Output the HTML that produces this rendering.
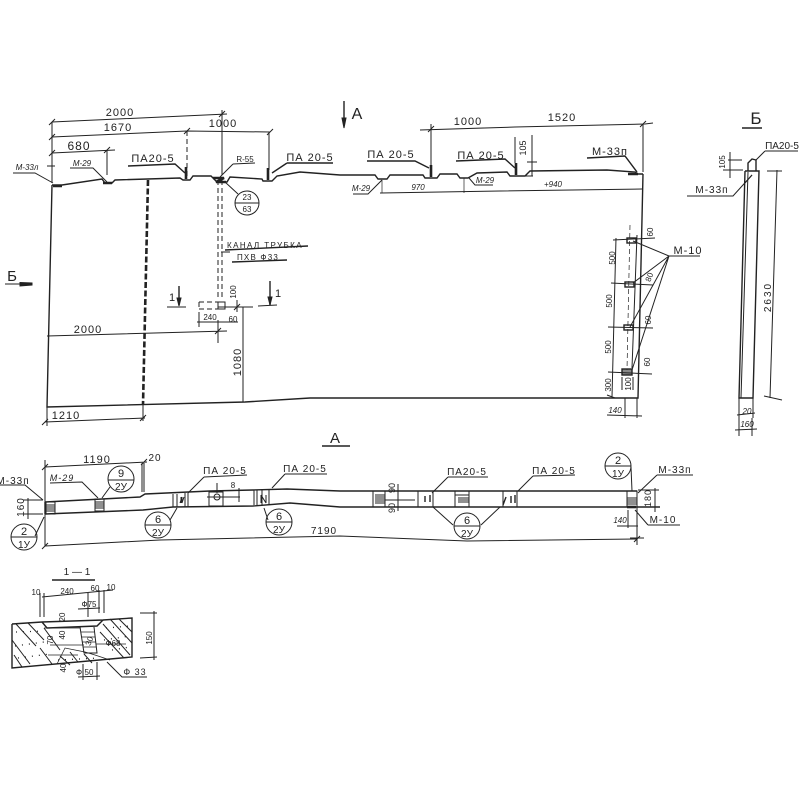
<!DOCTYPE html>
<html><head><meta charset="utf-8"><style>
html,body{margin:0;padding:0;background:#fff;width:800px;height:800px;overflow:hidden}
svg{display:block}
text{font-family:"Liberation Sans",sans-serif;fill:#222;text-anchor:middle;font-size:10px}
.i{font-style:italic}
.s{font-size:8px}
.m{font-size:11px;letter-spacing:1px}
.l{font-size:12px;letter-spacing:1px}
path,line,polyline,circle,rect{fill:none;stroke:#222;stroke-width:1}
.t{stroke-width:1.4}
.h{stroke-width:2.6}
.d{stroke-dasharray:5 3}
.th{stroke-width:.7}
.f{fill:#222}
.dot{stroke-width:1.3;stroke-dasharray:1 6}
</style></head><body>
<svg width="800" height="800" viewBox="0 0 800 800" xmlns="http://www.w3.org/2000/svg">

<!-- TOP ELEVATION -->
<path class="t" d="M52,185L47,407L245,402L310,398L638,398L643,174"/>
<path class="t" d="M52,185H62L102,179L105,183H112L115,180L180,178L183,180H190L193,176H211L217,182H227L230,177L262,179L263,181H272L277,176L300,172L340,175H375L378,179H387L390,175H423L425,178H437L440,174H457L460,178H468L477,173L507,172L510,176H525L530,171L607,170L635,172L638,174H643"/>
<path d="M380,193L500,191L642,189"/>
<path class="th" d="M382,180V193M464,178V193"/>
<path class="h" d="M148,180L143,405" stroke-dasharray="6 2.5"/>
<path d="M143,405V417"/>
<path class="d" d="M218,180V298M222,180V298"/>
<path class="h" d="M53,186H62M103,183H112M186,167V179M268,168V180M431,165V177M516,163V175M628,174H638"/>
<path class="h" d="M213,178H224L216,182H226"/>

<!-- top dims -->
<path d="M52,122L227,114M52,137L187,131L270,132M52,153L115,150"/>
<path d="M52,122V183M107,150V175M269,132V170M222,110V175"/>
<path class="d" d="M187,131V178"/>
<path d="M49,125L55,119M49,140L55,134M49,156L55,150M104,153L110,147M184,134L190,128M219,117L225,111M267,135L273,129"/>
<text x="120" y="116" class="m">2000</text>
<text x="118" y="131" class="m">1670</text>
<text x="223" y="127" class="m">1000</text>
<text x="79" y="150" class="l">680</text>

<path d="M13,173H35L53,183M47,166H55"/>
<text x="27" y="170" class="s i">M-33л</text>
<path d="M70,168H93L107,182"/>
<text x="82" y="166" class="s i">M-29</text>
<path class="t" d="M128,166L175,164L185,173"/>
<text x="153" y="162" class="m">ПА20-5</text>
<path d="M233,164L255,163M233,164L220,177"/>
<text x="245" y="162" class="s">R-55</text>
<circle cx="247" cy="203" r="12"/>
<path d="M235,203H259M238,194L225,182"/>
<text x="247" y="200" class="s">23</text>
<text x="247" y="212" class="s">63</text>
<path class="t" d="M287,163H333M287,163L272,173"/>
<text x="310" y="161" class="m">ПА 20-5</text>

<!-- A arrow -->
<path class="t" d="M344,101V125"/>
<path class="f" d="M342,118H346L344,128Z"/>
<text x="357" y="119" style="font-size:16px">А</text>

<!-- top right dims -->
<path d="M420,130L515,127L645,124L653,123"/>
<path d="M431,124V165M515,137V163M643,124V172"/>
<path d="M428,132L434,126M640,127L646,121"/>
<path d="M532,135V176M527,162H537M523,176H533"/>
<text x="468" y="125" class="m">1000</text>
<text x="562" y="121" class="m">1520</text>
<text transform="translate(523,148) rotate(-90)" y="3" style="font-size:9px">105</text>
<path class="t" d="M367,161L415,161L429,168M456,161L505,159L515,168M587,158L625,156L637,172"/>
<text x="391" y="158" class="m">ПА 20-5</text>
<text x="481" y="159" class="m">ПА 20-5</text>
<text x="610" y="155" class="m">М-33п</text>
<path d="M353,194H368L382,180M493,185H475L469,178"/>
<text x="361" y="191" class="s i">M-29</text>
<text x="485" y="183" class="s i">M-29</text>
<text x="418" y="190" class="s i">970</text>
<text x="553" y="187" class="s i">+940</text>

<!-- channel label -->
<path class="t" d="M225,250L308,246M232,262L287,260"/>
<path d="M221,252H230"/>
<text x="265" y="248" class="s" style="letter-spacing:1.4px">КАНАЛ ТРУБКА</text>
<text x="258" y="260" class="s" style="letter-spacing:1.2px">ПХВ Ф33</text>

<!-- section marks -->
<path d="M167,307H186M258,306L277,305"/>
<path class="t" d="M179,286V305M270,281V305"/>
<path class="f" d="M177,298H181L179,306ZM268,297H272L270,305Z"/>
<text x="172" y="301" style="font-size:11px">1</text>
<text x="278" y="297" style="font-size:11px">1</text>

<path class="d" d="M199,302H218M199,309H218M199,302V309" stroke-dasharray="4 2"/>
<rect x="218" y="302" width="7" height="7"/>
<path d="M218,307H253M237,300V312M197,322L238,322M199,312V327M218,320V343"/>
<path d="M243,307V402M234,310L240,304"/>
<path d="M47,336L227,331M215,334L221,328"/>
<text x="88" y="333" class="m">2000</text>
<text x="210" y="320" class="s">240</text>
<text x="233" y="322" class="s">60</text>
<text transform="translate(233,292) rotate(-90)" y="3" class="s">100</text>
<text transform="translate(237,362) rotate(-90)" y="4" style="font-size:11px;letter-spacing:1px">1080</text>
<path d="M45,422L145,418M47,405V426M143,417V421M42,425L48,419M140,421L146,415"/>
<text x="66" y="419" class="m">1210</text>

<!-- right bolts -->
<rect x="627" y="238" width="9" height="5" class="t"/>
<rect x="625" y="282" width="9" height="5" class="t"/>
<rect x="624" y="325" width="9" height="5" class="t"/>
<rect x="622" y="369" width="10" height="6" class="t" style="fill:#888"/>
<path d="M613,240L655,238M611,283L653,285M608,327L653,328M608,372L652,374"/>
<path d="M616,238L612,397M607,395L615,398"/>
<path class="d th" d="M630,225L627,370"/>
<path d="M637,235L632,368M669,256H700M669,256L633,241M669,256L633,283M669,256L630,327M669,256L632,370"/>
<text x="688" y="254" class="m">М-10</text>
<text transform="translate(612,258) rotate(-90)" y="3" class="s">500</text>
<text transform="translate(609,301) rotate(-90)" y="3" class="s">500</text>
<text transform="translate(608,347) rotate(-90)" y="3" class="s">500</text>
<text transform="translate(608,385) rotate(-90)" y="3" class="s">300</text>
<text transform="translate(650,232) rotate(-90)" y="3" class="s">60</text>
<text transform="translate(649,277) rotate(-70)" y="3" class="s">80</text>
<text transform="translate(648,320) rotate(-90)" y="3" class="s">60</text>
<text transform="translate(647,362) rotate(-90)" y="3" class="s">60</text>
<text transform="translate(628,384) rotate(-90)" y="3" class="s">100</text>
<text x="615" y="413" class="s i">140</text>
<path d="M622,377V390M633,377V390M607,415L642,416M625,398V418M637,398V418"/>

<!-- side view -->
<path class="t" d="M745,171L739,398H753L759,171H745"/>
<path d="M748,172L741,398"/>
<path class="t" d="M748,171V163L752,159L756,160V171"/>
<path d="M745,183L752,175"/>
<path d="M777,170L770,398M767,171H782M764,396L782,400"/>
<path d="M687,196H733L752,175M765,151H798M765,151L756,160"/>
<text x="712" y="193" class="m" style="font-size:10px">М-33п</text>
<text x="782" y="149" style="font-size:10px">ПА20-5</text>
<path d="M728,160H742M723,170H743M730,152V178"/>
<text transform="translate(727,162) rotate(-90)" y="-2" class="s">105</text>
<text x="756" y="124" style="font-size:17px">Б</text>
<path class="t" d="M742,128H762"/>
<text transform="translate(768,297) rotate(-90)" y="3" style="font-size:10px;letter-spacing:2px">2630</text>
<path d="M739,398V418M753,398V418M737,415L755,413M735,430L757,429M739,418V436M752,418V436"/>
<text x="747" y="414" class="s i">20</text>
<text x="747" y="427" class="s i">160</text>

<!-- left B -->
<text x="12" y="281" style="font-size:15px">Б</text>
<path d="M5,284H32"/>
<path class="f" d="M20,282.500L32,283L32,285L20,286Z"/>

<!-- A section title -->
<text x="335" y="443" style="font-size:15px">А</text>
<path class="t" d="M322,446H350"/>

<!-- PLAN -->
<path class="t" d="M45,502L140,497L145,494L210,491L253,490L287,489L340,491H637"/>
<path class="t" d="M45,514L143,510L173,507L253,506L290,503L340,507H660"/>
<path class="t" d="M45,502V514"/>
<path d="M45,460V546"/>
<rect x="46" y="502" width="9" height="12"/>
<path d="M46,505H55M46,507H55M46,509H55M46,511H55"/>
<rect x="95" y="499" width="9" height="12"/>
<path d="M95,502H104M95,504H104M95,506H104M95,508H104"/>
<path d="M173,494V507M177,494V507M185,493V507M188,493V507M180,503L182,497V503L184,497M181,497V503"/>
<rect x="209" y="492" width="14" height="14"/>
<circle cx="217" cy="497" r="3"/>
<path d="M207,497H240M217,483V493M239,488V502"/>
<text x="233" y="488" class="s">8</text>
<path d="M254,490V505M257,490V505M262,490V505M269,490V505M261,503V495M266,503V495M261,495L266,503"/>
<rect x="373" y="491" width="12" height="16"/>
<path d="M375,495H385M375,497H385M375,499H385M375,501H385M375,503H385"/>
<path d="M385,500H415M398,484V511"/>
<rect x="418" y="491" width="15" height="16"/>
<path class="t" d="M425,502V496M430,502V495"/>
<rect x="455" y="491" width="14" height="16"/>
<path d="M455,495H469M458,498H469M458,500H469M458,502H469"/>
<rect x="503" y="491" width="14" height="16"/>
<path class="t" d="M511,503V496M515,503V495M506,497L503,505"/>
<rect x="627" y="491" width="10" height="16"/>
<path d="M627,498H637M627,500H637M627,502H637M627,504H637"/>
<path class="h" d="M627,507H636"/>

<text transform="translate(392,488) rotate(-90)" y="3" style="font-size:9px">90</text>
<text transform="translate(392,508) rotate(-90)" y="3" style="font-size:9px">90</text>

<path d="M45,467L147,462M42,470L48,464M141,465L147,459M142,463V492M144,463V492"/>
<text x="97" y="463" class="m">1190</text>
<text x="155" y="461" class="m" style="font-size:10px">20</text>
<path d="M0,485H25L43,500M50,483L82,482L98,498"/>
<text x="13" y="484" class="m" style="font-size:10px">М-33п</text>
<text x="62" y="481" class="s i" style="font-size:9px;letter-spacing:1px">М-29</text>
<circle cx="121" cy="479" r="13"/><path d="M108,480H134M110,487L102,498"/>
<text x="121" y="477" style="font-size:11px">9</text><text x="121" y="490" style="font-size:10px">2У</text>
<path d="M23,500H43M23,514H43M28,498V519"/>
<text transform="translate(21,507) rotate(-90)" y="3" class="m" style="font-size:10px">160</text>
<circle cx="24" cy="537" r="13"/><path d="M11,537H37M35,536L44,517"/>
<text x="24" y="535" style="font-size:11px">2</text><text x="24" y="548" style="font-size:10px">1У</text>
<circle cx="158" cy="525" r="13"/><path d="M145,525H171M170,520L177,508"/>
<text x="158" y="523" style="font-size:11px">6</text><text x="158" y="536" style="font-size:10px">2У</text>
<path d="M204,477L247,475M204,477L188,493"/>
<text x="225" y="474" class="m" style="font-size:10px">ПА 20-5</text>
<path d="M285,474H327M285,474L272,488"/>
<text x="305" y="472" class="m" style="font-size:10px">ПА 20-5</text>
<circle cx="279" cy="522" r="13"/><path d="M266,522H292M268,520L264,508"/>
<text x="279" y="520" style="font-size:11px">6</text><text x="279" y="533" style="font-size:10px">2У</text>
<path d="M448,477H488M448,477L432,493"/>
<text x="467" y="475" class="m" style="font-size:10px">ПА20-5</text>
<path d="M533,476L575,475M533,476L518,491"/>
<text x="554" y="474" class="m" style="font-size:10px">ПА 20-5</text>
<circle cx="467" cy="526" r="13"/><path d="M454,526H480M453,525L433,507M481,525L500,507"/>
<text x="467" y="524" style="font-size:11px">6</text><text x="467" y="537" style="font-size:10px">2У</text>
<circle cx="618" cy="466" r="13"/><path d="M605,466H631M631,467L632,491"/>
<text x="618" y="464" style="font-size:11px">2</text><text x="618" y="477" style="font-size:10px">1У</text>
<path d="M657,475H693M657,475L638,493"/>
<text x="675" y="473" class="m" style="font-size:10px">М-33п</text>
<path d="M638,490H659M655,488V512"/>
<text transform="translate(648,498) rotate(-90)" y="3" class="m" style="font-size:9px">180</text>
<path d="M648,525H680M648,525L635,510"/>
<text x="663" y="523" class="m" style="font-size:10px">М-10</text>
<path d="M617,526H638M637,507V545M628,510V528"/>
<text x="620" y="523" class="s i">140</text>
<path d="M45,546L160,540L340,536L467,541L637,539M42,549L48,543M634,542L640,536M630,538H644"/>
<text x="324" y="534" class="m" style="font-size:10px">7190</text>

<!-- SECTION 1-1 -->
<text x="77" y="575" style="font-size:10px">1 — 1</text>
<path class="t" d="M52,580H95"/>
<path d="M42,597L113,590M40,593V617M44,593V617M88,592V617M99,590V613M104,590V613"/>
<text x="36" y="595" class="s">10</text>
<text x="67" y="594" class="s">240</text>
<text x="95" y="591" class="s">60</text>
<text x="111" y="590" class="s">10</text>
<path class="t" d="M12,624L42,622L103,620L132,618V657L12,668V624"/>
<path class="t" d="M42,622L47,628L97,626L103,620"/>
<path d="M80,627L84,653H97L94,627"/>
<path class="th" d="M81,632H94M82,637H95M82,642H96M83,647H96"/>
<path class="th" d="M57,664L65,648L85,652L95,655L110,660"/>
<g class="th">
<path d="M16,624L36,646M12,640L30,664M28,623L44,640M14,655L22,667M40,648L52,664M110,619L132,643M119,619L132,632M103,624L130,655M100,632L124,658M60,656L70,665M44,628L60,650M70,652L78,662M84,654L92,663"/>
</g>
<path class="dot" d="M16,632L44,631M15,646L44,642M18,658L50,654M58,660L100,658M106,628L130,626M104,640L130,636M112,650L130,647"/>
<path class="th" d="M44,628H80M50,645H84M48,655H78M96,644H126"/>
<text x="89" y="607" class="s">Ф75</text>
<path d="M78,609L100,608"/>
<text transform="translate(62,617) rotate(-90)" y="3" class="s">20</text>
<text transform="translate(62,635) rotate(-90)" y="3" class="s">40</text>
<text transform="translate(50,640) rotate(-90)" y="3" class="s">70</text>
<text transform="translate(63,668) rotate(-90)" y="3" class="s">40</text>
<text transform="translate(89,641) rotate(-70)" y="3" class="s">30</text>
<text x="113" y="646" class="s">Ф68</text>
<text x="89" y="675" class="s">50</text>
<text x="79" y="675" class="s">Ф</text>
<path d="M78,677L100,676M83,664V680M97,662V680"/>
<path d="M107,662L122,677H147"/>
<text x="135" y="675" class="s" style="font-size:9px;letter-spacing:1px">Ф 33</text>
<path d="M140,613H157M140,658L157,657M154,611V660"/>
<text transform="translate(149,638) rotate(-90)" y="3" class="s">150</text>
</svg>
</body></html>
